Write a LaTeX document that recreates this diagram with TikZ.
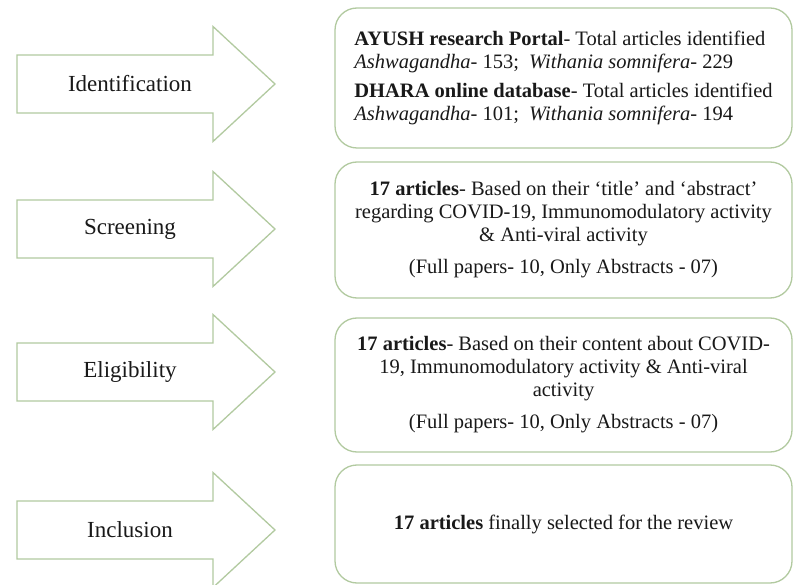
\documentclass[tikz,border=0pt]{standalone}
\usepackage{fontspec}
\setmainfont{Liberation Serif}
\definecolor{edge}{RGB}{178,202,160}
\definecolor{ink}{RGB}{25,25,25}
\begin{document}
\begin{tikzpicture}[x=1pt,y=-1pt,
  stagearrow/.style={draw=edge, line width=1.3pt, fill=white},
  stagelbl/.style={font=\fontsize{23}{27}\selectfont, text=ink},
  infobox/.style={draw=edge, line width=1.3pt, rounded corners=22pt,
    minimum width=457pt, align=center, text=ink,
    font=\fontsize{20.5}{23}\selectfont, inner sep=0pt}]
\useasboundingbox (0,0) rectangle (793,585);
\fill[white] (0,0) rectangle (793,585);
\foreach \c/\t/\n in {84/Identification/a1,229/Screening/a2,372/Eligibility/a3,530/Inclusion/a4}{
  \draw[stagearrow] (17,{\c-29}) -- (213,{\c-29}) -- (213,{\c-57.5}) -- (275,\c)
     -- (213,{\c+57.5}) -- (213,{\c+29}) -- (17,{\c+29}) -- cycle;
  \node[stagelbl] (\n) at (130,\c) {\t};
}
\node[infobox, minimum height=140pt, align=left] (b1) at (563.5,78) {%
  \textbf{AYUSH research Portal}- Total articles identified\\
  \textit{Ashwagandha}- 153;~ \textit{Withania somnifera}- 229\\[6pt]
  \textbf{DHARA online database}- Total articles identified\\
  \textit{Ashwagandha}- 101;~ \textit{Withania somnifera}- 194};
\node[infobox, minimum height=136pt] (b2) at (563.5,230) {%
  \textbf{17 articles}- Based on their ‘title’ and ‘abstract’\\
  regarding COVID-19, Immunomodulatory activity\\
  \& Anti-viral activity\\[9pt]
  (Full papers- 10, Only Abstracts - 07)};
\node[infobox, minimum height=134pt] (b3) at (563.5,385) {%
  \textbf{17 articles}- Based on their content about COVID-\\
  19, Immunomodulatory activity \& Anti-viral\\
  activity\\[9pt]
  (Full papers- 10, Only Abstracts - 07)};
\node[infobox, minimum height=118pt] (b4) at (563.5,524) {%
  \textbf{17 articles} finally selected for the review};
\end{tikzpicture}
\end{document}
